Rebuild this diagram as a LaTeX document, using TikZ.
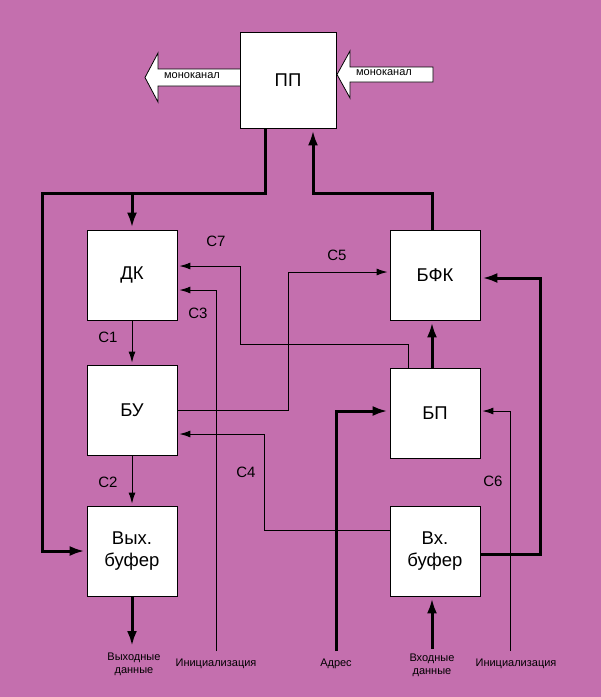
\documentclass[tikz,border=0pt]{standalone}
\usepackage{fontspec}
\setmainfont{Liberation Sans}
\usetikzlibrary{arrows.meta}
\definecolor{bgmag}{RGB}{196,111,174}

\begin{document}
\begin{tikzpicture}[x=1pt,y=-1pt,
    blk/.style={draw,fill=white,line width=0.8pt,minimum size=90pt,inner sep=0pt,
      align=center,font=\fontsize{18.5}{22}\selectfont},
    sig/.style={font=\fontsize{15}{18}\selectfont},
    mono/.style={font=\fontsize{11}{13}\selectfont},
    lbl/.style={anchor=north,inner sep=0pt,outer sep=8pt,align=center,
      font=\fontsize{11}{13}\selectfont},
    thinline/.style={line width=1pt,-{Latex[length=11pt,width=7pt]},shorten >=2pt},
    thickline/.style={line width=3pt,-{Latex[length=15pt,width=10pt]},shorten >=2pt}]
  \fill[bgmag] (0,0) rectangle (601,697);

  % wide channel arrows
  \draw[fill=white,line width=0.8pt] (240,69) -- (158,69) -- (158,53) -- (145,77.5)
    -- (158,102) -- (158,86) -- (240,86);
  \draw[fill=white,line width=0.8pt] (433,67) -- (350,67) -- (350,51) -- (337,74.5)
    -- (350,98) -- (350,82) -- (433,82) -- cycle;
  \node[mono] (mL) at (192,76) {моноканал};
  \node[mono] (mR) at (384,73) {моноканал};

  % blocks
  \node[blk,minimum size=96pt] (PP) at (288,80) {ПП};
  \node[blk] (DK) at (132,275) {ДК};
  \node[blk] (BU) at (132,410) {БУ};
  \node[blk] (OB) at (132,551) {Вых.\\буфер};
  \node[blk] (BFK) at (435,275) {БФК};
  \node[blk] (BP) at (435,413) {БП};
  \node[blk] (IB) at (435,551) {Вх.\\буфер};

  % inputs and outputs
  \node[lbl,outer sep=5pt] (OUT) at (134,648) {Выходные\\данные};
  \node[lbl] (I1) at (216,651) {Инициализация};
  \node[lbl] (ADR) at (336,651) {Адрес};
  \node[lbl,outer sep=5pt] (IN) at (432,649) {Входные\\данные};
  \node[lbl] (I2) at (516,651) {Инициализация};

  % signal names
  \node[sig] (c1) at (108,337) {C1};
  \node[sig] (c2) at (108,482) {C2};
  \node[sig] (c3) at (198,313) {C3};
  \node[sig] (c4) at (246,472) {C4};
  \node[sig] (c5) at (337,255) {C5};
  \node[sig] (c6) at (493,481) {C6};
  \node[sig] (c7) at (216,241) {C7};

  % data paths
  \coordinate (j1) at (132,193);
  \draw[thickline] (PP.south -| 265,0) |- (42,193) |- (OB.west);
  \draw[thickline] (j1) -- (DK.north);
  \draw[thickline] (BFK.north -| 432,0) |- (313,193) -- (PP.south -| 313,0);
  \draw[thickline] (BP.north -| 432,0) -- (BFK.south -| 432,0);
  \draw[thickline] (IB.east |- 0,554) -| (540,278) -- (BFK.east |- 0,278);
  \draw[thickline] (ADR.north) |- (BP.west |- 0,411);
  \draw[thickline] (IN.north) -- (IB.south -| 432,0);
  \draw[thickline] (OB.south) -- (OUT.north -| 132,0);

  % control signals
  \draw[thinline] (DK) -- (BU);
  \draw[thinline] (BU) -- (OB);
  \draw[thinline] (BP.north -| 408,0) |- (240,344) |- (DK.east |- 0,266);
  \draw[thinline] (I1.north) |- (DK.east |- 0,290);
  \draw[thinline] (BU.east) -| (288,272) -- (BFK.west |- 0,272);
  \draw[thinline] (IB.west |- 0,530) -| (264,434) -- (BU.east |- 0,434);
  \draw[thinline] (I2.north -| 510,0) |- (BP.east |- 0,411);
\end{tikzpicture}
\end{document}
